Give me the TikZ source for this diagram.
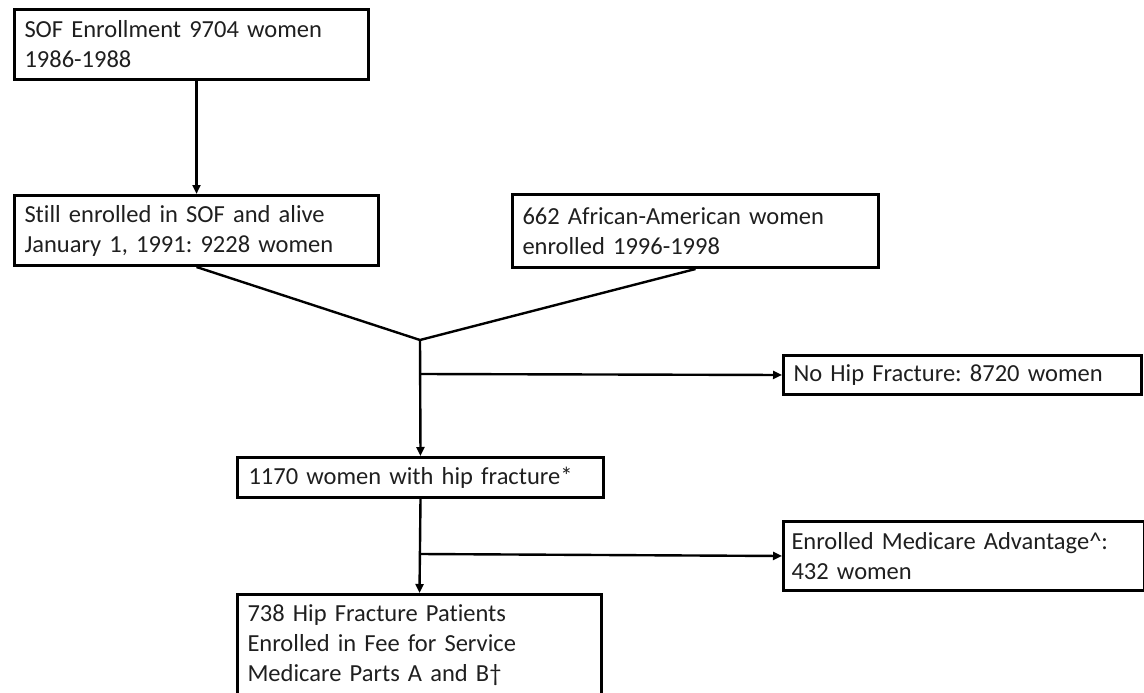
\documentclass[tikz,border=0pt]{standalone}
\usepackage{fontspec}
\setmainfont[RawFeature={-liga}]{Carlito}
\usetikzlibrary{arrows.meta,calc}
\frenchspacing
\begin{document}
\begin{tikzpicture}[x=1pt,y=-1pt,
  box/.style={draw=black, line width=3pt, rectangle, anchor=north west,
    inner xsep=10pt, inner ysep=0pt, align=left,
    font=\fontsize{24.5pt}{30pt}\selectfont\frenchspacing, text=black!88},
  conn/.style={draw=black, line width=2.4pt},
  arr/.style={conn, -{Triangle[length=9pt,width=8pt]}}]
\useasboundingbox (0,0) rectangle (1144,693);
\node[box, minimum width=354pt, minimum height=70pt, text width=334pt] (b1) at (13,8)
  {SOF Enrollment 9704 women\\1986-1988};
\node[box, minimum width=364pt, minimum height=70pt, text width=344pt] (b2) at (13,194)
  {Still enrolled in SOF and alive\\January 1, 1991: 9228 women};
\node[box, minimum width=366pt, minimum height=73pt, text width=346pt] (b3) at (511,193)
  {662 African-American women\\enrolled 1996-1998};
\node[box, minimum width=358pt, minimum height=39pt, text width=338pt] (nohip) at (782,354)
  {No Hip Fracture: 8720 women};
\node[box, minimum width=366pt, minimum height=40pt, text width=344pt, inner xsep=11pt] (b4) at (236,456)
  {1170 women with hip fracture*};
\node[box, minimum width=361pt, minimum height=69pt, text width=345pt, inner xsep=8pt] (b6) at (782,520)
  {Enrolled Medicare Advantage\textasciicircum:\\432 women};
\node[box, minimum width=364pt, minimum height=102pt, text width=344pt] (b5) at (236,593)
  {738 Hip Fracture Patients\\Enrolled in Fee for Service\\Medicare Parts A and B†};
\coordinate (m) at (420,340);
\coordinate (j1) at (420,374);
\coordinate (j2) at (420,554);
\draw[arr] (b2.north |- b1.south) -- (b2.north);
\draw[conn] (b2.south) -- (m) -- (b3.south);
\draw[arr] (m) -- (b4.north);
\draw[arr] (j1) -- (nohip.west);
\draw[arr] (b4.south) -- (b5.north);
\draw[arr] (j2) -- (b6.west);
\end{tikzpicture}
\end{document}
